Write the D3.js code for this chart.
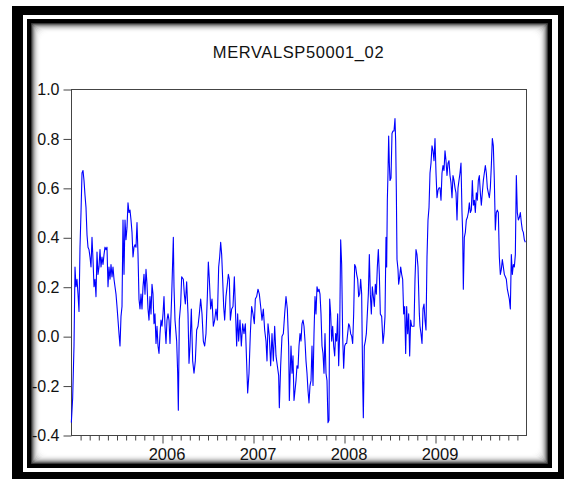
<!DOCTYPE html>
<html>
<head>
<meta charset="utf-8">
<script src="https://cdn.jsdelivr.net/npm/d3@7"></script>
<style>
  html, body { margin: 0; padding: 0; background: #fff; }
  svg { display: block; }
  text { font-family: "Liberation Sans", Arial, sans-serif; }
</style>
</head>
<body>
<svg id="chart" width="564" height="483"></svg>
<script>
// ---------------- data ----------------
const title = "MERVALSP50001_02";
// observation index (≈273 observations per year, obs 0 = start of 2005)
const obs = [
  1,5,9,12,15,18,21,24,27,30,33,36,39,42,45,48,51,54,57,60,63,66,69,72,75,78,81,84,87,90,
  93,96,99,102,105,108,111,114,117,120,123,126,129,132,135,138,141,144,147,150,153,156,159,162,165,168,171,174,177,180,
  183,186,189,192,195,198,201,204,207,210,213,216,219,222,225,228,231,234,237,240,243,246,249,252,255,258,261,264,267,270,
  273,276,279,282,285,288,291,294,
  297,302,307,309,312,317,320,322,325,329,332,337,340,343,347,351,354,357,361,365,369,373,377,381,385,389,393,397,401,405,
  409,412,415,419,423,427,431,435,439,443,446,449,452,455,458,461,465,469,472,475,478,482,486,490,493,497,500,503,507,511,
  515,519,523,527,530,534,538,542,546,550,553,557,561,565,569,573,577,581,585,588,591,595,599,603,607,611,615,619,623,625,
  629,633,637,641,645,649,653,655,
  660,663,666,669,672,675,678,681,684,687,690,693,696,699,702,705,708,711,714,717,720,723,726,729,732,735,738,741,744,747,
  750,753,756,759,762,765,768,771,774,776,779,782,785,788,791,794,797,800,803,806,809,812,815,818,821,824,827,830,833,836,
  839,842,845,848,851,854,857,860,863,866,869,872,875,877,880,883,886,889,892,895,898,901,904,907,910,913,916,919,922,925,
  928,932,936,939,942,945,947,949,951,953,955,957,960,963,966,969,972,974,976,978,981,983,986,989,992,995,998,1001,1004,1007,
  1010,1013,1016,1019,1022,1025,1029,1032,1035,1038,1041,1045,
  1047,1050,1053,1056,1059,1062,1065,1068,1071,1074,1077,1080,1083,1086,1089,1092,1095,1098,1101,1104,1107,1110,1113,1116,1119,1122,1125,1128,1131,1134,
  1137,1140,1143,1146,1149,1152,1155,1158,1161,1164,1167,1170,1173,1175,1177,1180,1183,1186,1189,1192,1195,1198,1201,1204,1207,1210,1213,1216,1219,1222,
  1225,1228,1231,1234,1237,1240,1243,1246,1249,1252,1255,1258,1261,1264,1267,1270,1273,1276,1279,1282,1285,1288,1291,1294,1297,1300,1303,1306,1309,1312,
  1315,1318,1321,1324,1327,1330,1333,1336,1339,1342,1345,1348,1351,1354,1357,1360,1363
];
const corr = [
  -0.35,-0.25,-0.04,0.28,0.20,0.23,0.17,0.10,0.36,0.50,0.66,0.67,0.63,0.57,0.52,0.41,0.36,0.35,0.32,0.28,0.40,0.31,0.20,0.23,0.16,0.34,0.25,0.28,0.35,0.28,
  0.32,0.29,0.33,0.36,0.35,0.36,0.20,0.28,0.23,0.29,0.24,0.28,0.23,0.20,0.17,0.12,0.065,0.01,-0.04,0.08,0.12,0.47,0.25,0.47,0.39,0.44,0.54,0.50,0.51,0.47,
  0.42,0.32,0.36,0.37,0.36,0.46,0.33,0.15,0.11,0.17,0.11,0.20,0.25,0.17,0.27,0.21,0.11,0.065,0.16,0.09,0.21,0.17,0.05,0.09,-0.03,0.04,-0.04,-0.07,0.01,0.065,
  0.04,0.09,0.16,0.04,-0.03,0.065,0.09,0.065,
  -0.03,0.16,0.40,0.20,0.065,-0.02,-0.15,-0.30,0.065,0.13,0.24,0.23,0.17,0.13,0.22,0.09,-0.11,-0.04,0.11,-0.10,-0.15,-0.10,0.025,0.04,0.09,0.15,0.09,-0.02,-0.04,0.01,
  0.16,0.30,0.23,0.11,0.15,0.04,0.065,0.11,0.065,0.28,0.32,0.38,0.33,0.23,0.12,0.065,0.16,0.21,0.25,0.23,0.065,0.11,0.12,0.24,0.12,-0.04,0.09,-0.02,0.065,-0.04,
  0.05,0.01,0.05,-0.11,-0.23,-0.15,0.01,0.12,0.09,0.05,0.15,0.16,0.19,0.17,0.12,0.065,0.11,0.025,-0.02,-0.10,0.05,0.00,-0.12,0.01,-0.10,0.04,-0.08,-0.12,-0.16,-0.29,
  -0.12,0.00,0.01,0.09,0.16,0.11,-0.04,-0.26,
  -0.04,-0.15,-0.08,-0.26,-0.22,-0.18,-0.12,-0.13,-0.04,0.01,-0.02,0.05,0.065,0.04,-0.02,-0.10,-0.15,-0.22,-0.27,-0.20,-0.18,-0.04,-0.20,0.01,0.16,0.09,0.20,0.18,0.19,0.17,
  0.09,-0.04,-0.07,-0.15,0.01,-0.15,-0.18,-0.35,-0.34,0.15,0.09,-0.02,0.04,-0.04,-0.08,0.01,-0.02,0.09,-0.12,0.01,0.39,0.29,0.00,-0.13,-0.04,-0.03,-0.03,0.01,0.05,0.04,
  0.01,0.00,-0.03,0.09,0.29,0.28,0.25,0.23,0.16,0.17,0.23,0.17,-0.18,-0.33,-0.04,-0.02,0.01,0.09,0.17,0.33,0.17,0.09,0.20,0.16,0.12,0.21,0.17,0.28,0.35,0.25,
  0.09,0.08,-0.03,0.01,0.08,0.40,0.28,0.55,0.66,0.81,0.70,0.63,0.64,0.82,0.83,0.83,0.88,0.79,0.59,0.31,0.27,0.21,0.24,0.28,0.25,0.23,0.09,0.12,-0.07,0.12,
  0.01,0.09,-0.08,0.065,0.04,0.04,0.04,0.23,0.35,0.33,0.28,0.09,
  0.04,0.01,-0.03,0.11,0.13,0.065,0.025,0.32,0.47,0.52,0.66,0.70,0.77,0.75,0.71,0.80,0.66,0.56,0.59,0.60,0.60,0.55,0.66,0.69,0.67,0.75,0.71,0.65,0.70,0.71,
  0.65,0.62,0.56,0.65,0.63,0.60,0.58,0.47,0.60,0.63,0.66,0.70,0.50,0.42,0.19,0.40,0.42,0.47,0.48,0.50,0.54,0.50,0.51,0.63,0.53,0.55,0.50,0.58,0.55,0.63,
  0.65,0.58,0.53,0.58,0.63,0.66,0.69,0.66,0.60,0.58,0.56,0.60,0.69,0.80,0.77,0.63,0.43,0.50,0.51,0.50,0.32,0.25,0.27,0.31,0.28,0.25,0.24,0.23,0.19,0.17,
  0.15,0.11,0.33,0.25,0.29,0.28,0.33,0.65,0.50,0.47,0.48,0.50,0.46,0.43,0.42,0.39,0.38
];
const yTicks = [-0.4, -0.2, 0.0, 0.2, 0.4, 0.6, 0.8, 1.0];
const yearLabels = ["2006", "2007", "2008", "2009"];
const yearStartObs = [273, 546, 819, 1092];
const totalObs = 1365;

// ---------------- layout ----------------
const svg = d3.select("#chart");
const plot = { left: 71, right: 526, top: 89, bottom: 435 };

// decorative frame
svg.append("rect").attr("x", 12).attr("y", 6).attr("width", 560).attr("height", 473).attr("fill", "#000");
svg.append("rect").attr("x", 23).attr("y", 15).attr("width", 535).attr("height", 457).attr("fill", "#fff");
const shade = [0, 0, 0, 0, 55, 105, 145, 178, 203, 222, 236, 245, 251, 254, 255];
const inner = { x: 27, y: 19, w: 525, h: 449 };
shade.forEach((g, i) => {
  svg.append("rect")
    .attr("x", inner.x + i).attr("y", inner.y + i)
    .attr("width", inner.w - 2 * i).attr("height", inner.h - 2 * i)
    .attr("rx", Math.max(0, i - 3) * 0.8)
    .attr("fill", `rgb(${g},${g},${g})`);
});

// scales
const x = d3.scaleLinear().domain([0, totalObs]).range([plot.left, plot.right]);
const y = d3.scaleLinear().domain([-0.4, 1.0]).range([plot.bottom, plot.top]);

// title
svg.append("text")
  .attr("x", (plot.left + plot.right) / 2).attr("y", 58)
  .attr("text-anchor", "middle")
  .attr("font-size", 16.5).attr("letter-spacing", 0.6)
  .attr("fill", "#111")
  .text(title);

// plot frame
svg.append("rect")
  .attr("x", plot.left + 0.5).attr("y", plot.top + 0.5)
  .attr("width", plot.right - plot.left).attr("height", plot.bottom - plot.top)
  .attr("fill", "none").attr("stroke", "#444").attr("stroke-width", 1);

// y axis
const yAxis = d3.axisLeft(y).tickValues(yTicks).tickSize(8).tickPadding(4).tickFormat(d3.format(".1f"));
const gy = svg.append("g").attr("transform", `translate(${plot.left + 0.5},0.5)`).call(yAxis);
gy.select(".domain").remove();
gy.selectAll("line").attr("stroke", "#444");
gy.selectAll("text").attr("font-size", 16).attr("fill", "#111")
  .attr("font-family", "'Liberation Sans', Arial, sans-serif").text(d => d3.format(".1f")(d).replace("−", "-"));

// x axis minor ticks
const minor = d3.range(1, 50).map(i => i * totalObs / 50).filter(v => !yearStartObs.some(ys => Math.abs(ys - v) < 1));
const gx = svg.append("g").attr("transform", `translate(0.5,${plot.bottom + 0.5})`);
gx.append("g").call(d3.axisBottom(x).tickValues(minor).tickSize(5).tickFormat(""))
  .call(g => g.select(".domain").remove())
  .selectAll("line").attr("stroke", "#444");
const major = gx.append("g").call(d3.axisBottom(x).tickValues(yearStartObs).tickSize(8).tickPadding(5)
  .tickFormat((d, i) => yearLabels[i]));
major.select(".domain").remove();
major.selectAll("line").attr("stroke", "#444");
major.selectAll("text").attr("font-size", 16.5).attr("fill", "#111")
  .attr("font-family", "'Liberation Sans', Arial, sans-serif").attr("dx", 4);

// series line
const pts = obs.map((o, i) => [o, corr[i]]);
svg.append("path")
  .datum(pts)
  .attr("fill", "none")
  .attr("stroke", "#0000ff")
  .attr("stroke-width", 1.1)
  .attr("stroke-linejoin", "round")
  .attr("d", d3.line().x(d => x(d[0])).y(d => y(d[1])));
</script>
</body>
</html>
